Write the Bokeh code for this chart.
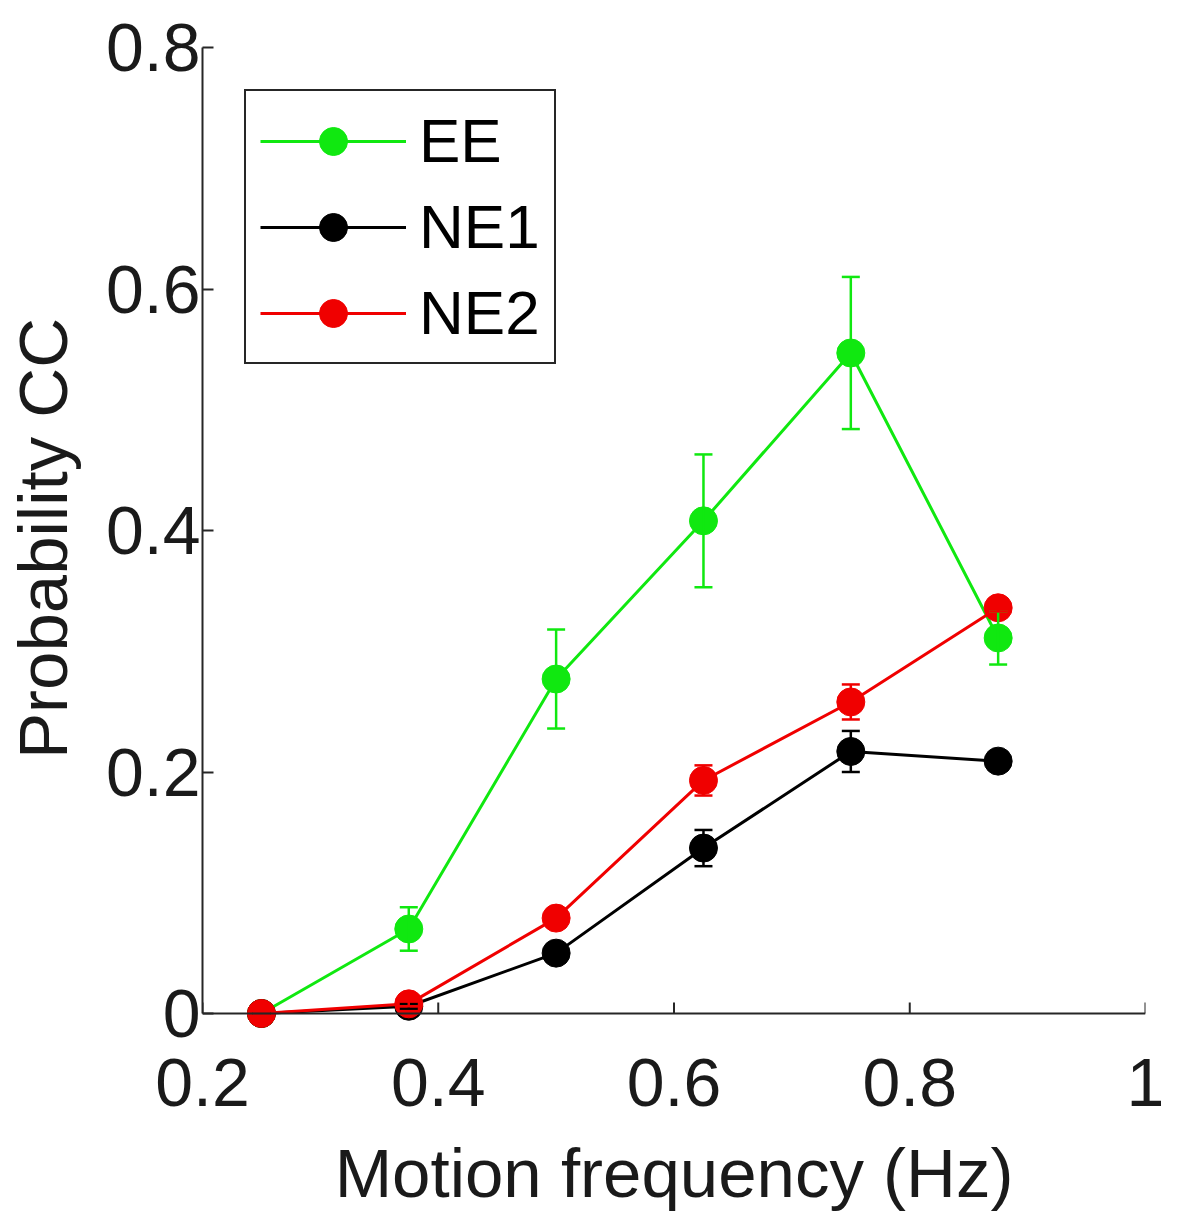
import math
from bokeh.plotting import figure
from bokeh.models import (ColumnDataSource, Range1d, FixedTicker, Whisker, TeeHead,
                          Legend, LegendItem, Span)
from bokeh.embed import file_html
from bokeh.resources import INLINE

# ---- data ----
freq = [0.25, 0.375, 0.5, 0.625, 0.75, 0.875]

ee = [0.0, 0.070, 0.277, 0.408, 0.547, 0.311]
ee_err = [0.0, 0.018, 0.041, 0.055, 0.063, 0.022]

ne1 = [0.0, 0.006, 0.050, 0.137, 0.217, 0.209]
ne1_err = [0.0, 0.002, 0.006, 0.015, 0.017, 0.003]

ne2 = [0.0, 0.008, 0.079, 0.193, 0.258, 0.336]
ne2_err = [0.0, 0.002, 0.005, 0.0125, 0.0145, 0.003]

series_names = ["EE", "NE1", "NE2"]
series_colors = ["#10e810", "#000000", "#f00000"]

x_ticks = [0.2, 0.4, 0.6, 0.8, 1.0]
x_tick_labels = ["0.2", "0.4", "0.6", "0.8", "1"]
y_ticks = [0.0, 0.2, 0.4, 0.6, 0.8]
y_tick_labels = ["0", "0.2", "0.4", "0.6", "0.8"]

x_title = "Motion frequency (Hz)"
y_title = "Probability CC"

FONT = "Liberation Sans"
TXT = "#1a1a1a"
AX = "#262626"

p = figure(width=1179, height=1220, output_backend="svg", toolbar_location=None,
           x_range=Range1d(0.2, 1.0), y_range=Range1d(-0.01325, 0.8),
           min_border_left=202, min_border_right=34, min_border_top=47,
           min_border_bottom=191)
p.outline_line_color = None
p.grid.visible = False
p.background_fill_color = "white"

xa = p.xaxis[0]
ya = p.yaxis[0]
ya.bounds = (0.0, 0.8)
xa.ticker = FixedTicker(ticks=x_ticks)
ya.ticker = FixedTicker(ticks=y_ticks)
xa.major_label_overrides = {t: l for t, l in zip(x_ticks, x_tick_labels)}
ya.major_label_overrides = {t: l for t, l in zip(y_ticks, y_tick_labels)}
for ax in (xa, ya):
    ax.axis_line_color = AX
    ax.axis_line_width = 2
    ax.major_tick_line_color = AX
    ax.major_tick_line_width = 2
    ax.major_tick_in = 11
    ax.major_tick_out = 0
    ax.minor_tick_line_color = None
    ax.major_label_text_font = FONT
    ax.major_label_text_font_size = "68px"
    ax.major_label_text_color = TXT
    ax.axis_label_text_font = FONT
    ax.axis_label_text_font_size = "69px"
    ax.axis_label_text_font_style = "normal"
    ax.axis_label_text_color = TXT
# the x axis line and its ticks are drawn at y = 0 (below)
xa.axis_line_color = None
xa.major_tick_line_color = None
xa.major_label_standoff = 29
xa.axis_label = x_title
xa.axis_label_standoff = 26
ya.major_label_standoff = 2
ya.axis_label = y_title
ya.axis_label_standoff = 21

# x axis line at y = 0 with inward ticks
p.add_layout(Span(location=0, dimension="width", line_color=AX, line_width=2))
p.ray(x=x_ticks, y=[0.0] * len(x_ticks), length=11, length_units="screen",
      angle=math.pi / 2, line_color=AX, line_width=2)

items = []
for name, ys, errs, col in zip(series_names, [ee, ne1, ne2], [ee_err, ne1_err, ne2_err],
                               series_colors):
    src = ColumnDataSource(dict(x=freq, y=ys,
                                lo=[a - b for a, b in zip(ys, errs)],
                                hi=[a + b for a, b in zip(ys, errs)]))
    w = Whisker(base="x", upper="hi", lower="lo", source=src, dimension="height",
                line_color=col, line_width=2.5, level="glyph",
                upper_head=TeeHead(size=18, line_color=col, line_width=2.5),
                lower_head=TeeHead(size=18, line_color=col, line_width=2.5))
    p.add_layout(w)
    ln = p.line("x", "y", source=src, line_color=col, line_width=3)
    sc = p.scatter("x", "y", source=src, size=28, fill_color=col, line_color=col,
                   line_width=1)
    items.append(LegendItem(label=name, renderers=[ln, sc]))

legend = Legend(items=items, location="top_left", margin=42, padding=14, spacing=15,
                glyph_width=146, glyph_height=70, label_standoff=13,
                label_text_font=FONT, label_text_font_size="62px",
                label_text_color="#000000",
                border_line_color=AX, border_line_width=2, border_line_alpha=1.0,
                background_fill_color="white", background_fill_alpha=1.0)
p.add_layout(legend)

open("out.html", "w").write(file_html(p, INLINE))
